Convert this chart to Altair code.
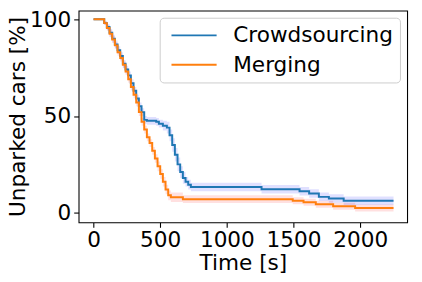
import altair as alt
import pandas as pd

# Crowdsourcing
crowd_t = [0, 70, 80, 100, 120, 140, 160, 180, 200, 220, 240, 260, 280, 300, 320, 340, 360, 380,
           400, 470, 490, 520, 550, 570, 590, 610, 630, 650, 670, 690, 710, 730,
           1260, 1545, 1617, 1690, 1765, 1876, 2250]
crowd_v = [100, 100, 98, 96, 93, 90, 87, 84, 81, 77, 74, 71, 67, 63, 59, 55, 52, 48,
           47.5, 47, 46, 45, 44, 40, 35, 30, 25, 21, 18, 16, 14.5, 13.3,
           12.1, 11.1, 9.9, 8.2, 7.4, 6.2, 6.2]
crowd_s = [0, 0, 1, 1.5, 2, 2, 2, 2, 2, 2, 2, 2, 2, 2, 2, 2, 2, 2,
           2, 2, 2, 2.5, 3, 3, 3.5, 3.5, 3.5, 3, 3, 2.5, 2.5, 2.2,
           2.2, 2.2, 2.2, 2.2, 2.2, 2.2, 2.2]

# Merging
merge_t = [0, 60, 80, 100, 120, 140, 160, 180, 200, 220, 240, 260, 280, 300, 320, 340, 360, 380,
           400, 420, 440, 460, 480, 500, 520, 540, 560, 580, 670,
           1494, 1575, 1667, 1797, 1962, 2250]
merge_v = [100, 100, 98, 95.5, 92.5, 89.5, 86.5, 83, 80, 76.5, 73, 69, 65, 61, 57, 52, 47, 43,
           39, 36, 32, 28, 24, 20, 16, 12, 9, 8, 7,
           6.2, 5.4, 4.4, 3.4, 2.4, 2.4]
merge_s = [0, 0, 1, 1.5, 1.8, 1.8, 1.8, 1.8, 1.8, 1.8, 1.8, 1.8, 1.8, 1.8, 2, 2, 2, 2,
           2, 2, 2, 2.2, 2.5, 2.5, 2.5, 2.5, 2.5, 2.5, 2,
           1.8, 1.8, 1.8, 1.8, 1.8, 1.8]

series = ["Crowdsourcing", "Merging"]

rows = []
for name, ts, vs, ss in [("Crowdsourcing", crowd_t, crowd_v, crowd_s),
                         ("Merging", merge_t, merge_v, merge_s)]:
    for t, v, s in zip(ts, vs, ss):
        rows.append({"series": name, "t": t, "v": v,
                     "lo": v - s, "hi": min(v + s, 100)})
df = pd.DataFrame(rows)

FONT = "DejaVu Sans"
FS = 22

xscale = alt.Scale(domain=[-112, 2352], nice=False, zero=False)
yscale = alt.Scale(domain=[-5, 104.5], nice=False, zero=False)

x = alt.X("t:Q", title="Time [s]", scale=xscale,
          axis=alt.Axis(values=[0, 500, 1000, 1500, 2000], format="d", titlePadding=2))
y = alt.Y("v:Q", title="Unparked cars [%]", scale=yscale,
          axis=alt.Axis(values=[0, 50, 100], titleX=-55, titleY=108,
                        titleBaseline="alphabetic", titleAngle=270, titleAlign="center"))

bands = alt.Chart(df).mark_area(interpolate="step-after", opacity=0.12).encode(
    x=x, y=y, y2="hi:Q",
    fill=alt.condition(alt.datum.series == "Merging", alt.value("red"), alt.value("blue")),
    detail="series:N",
).transform_calculate(v="datum.lo")

lines = alt.Chart(df).mark_line(interpolate="step-after", strokeWidth=2).encode(
    x=x, y=y,
    stroke=alt.Stroke("series:N", scale=alt.Scale(domain=series, range=["#1f77b4", "#ff7f0e"]),
                      legend=alt.Legend(title=None, orient="none", legendX=82.7, legendY=7.3,
                                        symbolType="M-1,0H6.67", symbolSize=144,
                                        symbolStrokeWidth=2,
                                        labelFontSize=FS, labelFont=FONT, labelColor="#000",
                                        labelLimit=0, padding=7, rowPadding=8, labelOffset=46,
                                        strokeColor="#cccccc", cornerRadius=4,
                                        fillColor="white")),
)

chart = alt.layer(bands, lines).properties(
    width=335, height=216,
    autosize=alt.AutoSizeParams(type="none"),
    padding={"left": 72, "top": 0, "right": 7, "bottom": 50},
).configure_view(stroke="#000", strokeWidth=1.1).configure_axis(
    grid=False, domain=False, labelFontSize=FS, titleFontSize=FS, labelFont=FONT,
    titleFont=FONT, titleFontWeight="normal", tickSize=5, tickWidth=1.1, labelPadding=3,
    tickColor="#000", labelColor="#000", titleColor="#000")

chart.save("out.html", embed_options={"renderer": "svg", "actions": False})
